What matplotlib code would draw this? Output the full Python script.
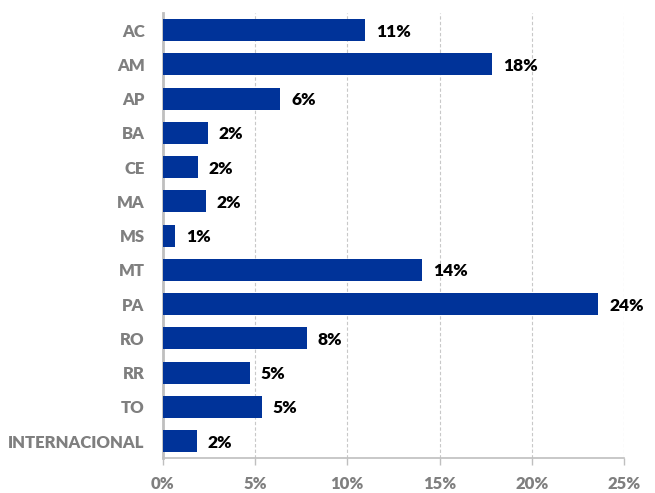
import numpy as np
import matplotlib.pyplot as plt
import matplotlib as mpl
from matplotlib.ticker import PercentFormatter

mpl.rcParams['font.family'] = ['Lato', 'DejaVu Sans']
mpl.rcParams['font.weight'] = 'bold'

states = ['AC', 'AM', 'AP', 'BA', 'CE', 'MA', 'MS', 'MT', 'PA', 'RO', 'RR', 'TO', 'INTERNACIONAL']
shares = [10.95, 17.85, 6.37, 2.45, 1.9, 2.33, 0.65, 14.06, 23.58, 7.8, 4.71, 5.36, 1.84]
xticks = [0, 5, 10, 15, 20, 25]

fig = plt.figure(figsize=(6.55, 4.93), dpi=100)
ax = fig.add_axes([0.2484, 0.0704, 0.7045, 0.9032])

y = np.arange(len(states))
ax.barh(y, shares, height=0.64, color='#003399', zorder=3)

# value labels, rounded to whole percent
for yi, v in zip(y, shares):
    ax.text(v + 0.6, yi, '%d%%' % round(v), va='center_baseline', ha='left',
            fontsize=12.5, fontweight='heavy', color='black')

ax.set_yticks(y)
ax.set_yticklabels(states, fontweight='heavy')
ax.set_ylim(len(states) - 0.5, -0.5)
ax.set_xlim(0, 25)
ax.set_xticks(xticks)
ax.xaxis.set_major_formatter(PercentFormatter(decimals=0))
for lbl in ax.get_xticklabels():
    lbl.set_fontweight('heavy')

ax.grid(axis='x', linestyle=(0, (3, 2)), color='#c8c8c8', linewidth=0.8, zorder=0)
for s in ['top', 'right']:
    ax.spines[s].set_visible(False)
ax.spines['left'].set_color('#bfbfbf')
ax.spines['left'].set_linewidth(2)
ax.spines['bottom'].set_color('#bfbfbf')
ax.spines['bottom'].set_linewidth(1.2)

ax.tick_params(axis='y', length=0, pad=13, labelsize=12, labelcolor='#7f7f7f')
ax.tick_params(axis='x', length=5, width=1, color='#bfbfbf', pad=8,
               labelsize=12, labelcolor='#7f7f7f')

plt.savefig('out.png', dpi=100)
